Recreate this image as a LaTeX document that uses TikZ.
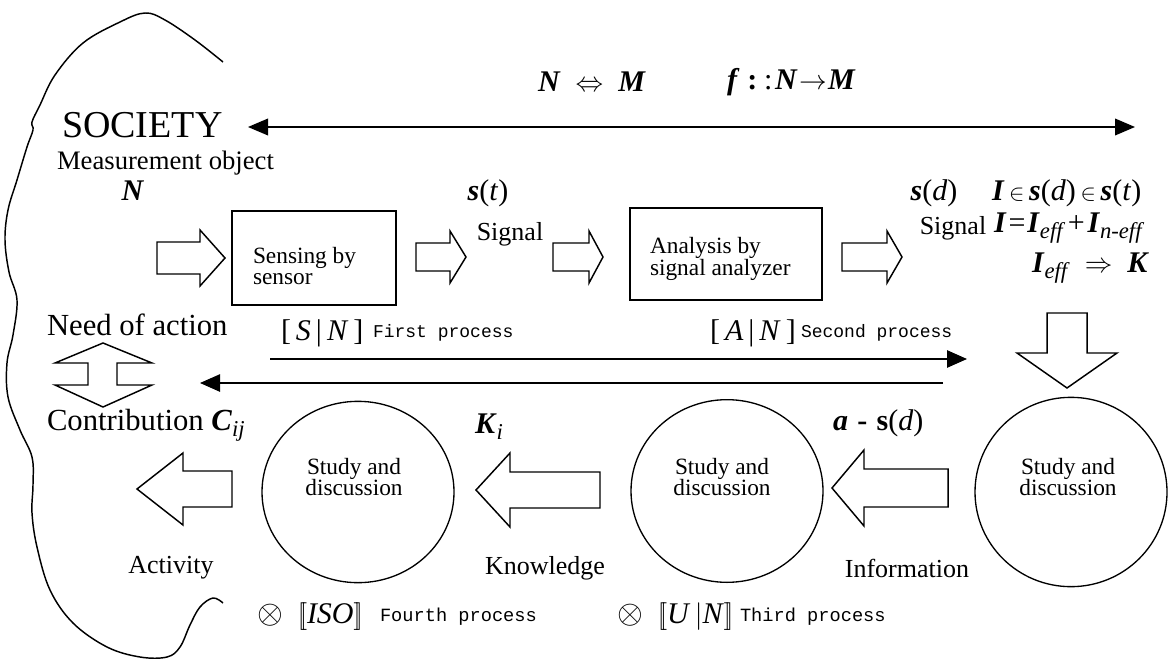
\documentclass[tikz,border=0pt]{standalone}
\usepackage{fontspec}
\setmainfont{Liberation Serif}
\setmonofont{Liberation Mono}
\usetikzlibrary{arrows.meta,shapes.geometric}
\newcommand{\bi}[1]{\textbf{\textit{#1}}}
\newcommand{\fsz}[2]{\fontsize{#1pt}{#2pt}\selectfont}
\newcommand{\smallin}{\hspace{3.5pt}{\fsz{17}{17}$\in$}\hspace{3.5pt}}
\newcommand{\subit}[1]{\raisebox{-4.5pt}{\fsz{17}{17}\textit{#1}}}
\newcommand{\myotimes}{{\fsz{28}{28}$\otimes$}}
% hollow horizontal arrow: tail x, head-base x, tip x, centre y, body half, head half
\newcommand{\hollowH}[6]{\draw[hollow] (#1,{#4-#5}) -- (#2,{#4-#5}) -- (#2,{#4-#6}) -- (#3,#4) -- (#2,{#4+#6}) -- (#2,{#4+#5}) -- (#1,{#4+#5}) -- cycle;}
% hollow vertical arrow: tail y, head-base y, tip y, centre x, body half, head half
\newcommand{\hollowV}[6]{\draw[hollow] ({#4-#5},#1) -- ({#4-#5},#2) -- ({#4-#6},#2) -- (#4,#3) -- ({#4+#6},#2) -- ({#4+#5},#2) -- ({#4+#5},#1) -- cycle;}
\begin{document}
\begin{tikzpicture}[x=0.75pt,y=-0.75pt,line width=1pt,
  every node/.style={inner sep=0pt,outer sep=0pt},
  hollow/.style={draw,line width=1.1pt,line join=miter,fill=white},
  boxnode/.style={draw,rectangle,line width=1pt},
  disc/.style={draw,ellipse,line width=1pt},
  tipline/.style={line width=1.1pt,-{Triangle[length=15pt,width=13pt]}},
  tipboth/.style={line width=1.1pt,{Triangle[length=15pt,width=12.5pt]}-{Triangle[length=15pt,width=12.5pt]}},
  big/.style={font=\fsz{28.5}{30}},
  mid/.style={font=\fsz{23}{24}},
  formula/.style={font=\fsz{22.5}{24}},
  lab/.style={font=\fsz{19.5}{21}},
  inner/.style={font=\fsz{17.5}{16},align=left},
  mono/.style={font=\ttfamily\fsz{13.5}{15}},
  monob/.style={font=\ttfamily\fsz{14}{15}}]
\useasboundingbox (0,0) rectangle (1169,659);

% society outline
\draw[line width=1.1pt] plot[smooth,tension=0.6] coordinates {
 (223,62) (195,40) (165,20) (145,13) (120,22) (83,43) (55,75) (40,105) (32,122) (33,130)
 (27,147) (17,180) (8,210) (5,240) (9,272) (17,300) (13,335) (7,363) (8,397) (20,430)
 (32,457) (33,485) (32,513) (37,547) (50,590) (73,623) (107,647) (140,657) (167,657)
 (180,647) (190,625) (200,607) (213,598) (223,603)};

% top texts
\node[big,anchor=west] (soc) at (62,125) {SOCIETY};
\node[font=\fsz{20}{22},anchor=west] (mo) at (57,163) {Measurement object};
\node[formula] (nobj) at (133,191) {\bi{N}};
\node[formula] (nm) at (592,82) {\bi{N}\ \ $\Leftrightarrow$\ \ \bi{M}};
\node[formula,anchor=west] (fm) at (727,82) {\bi{f}\hspace{6pt}\textbf{:}\hspace{5pt}:\hspace{2pt}\bi{N}\hspace{1pt}$\rightarrow$\hspace{1pt}\bi{M}};

\coordinate (tl) at (248,127);
\coordinate (tr) at (1135,127);
\draw[tipboth] (tl) -- (tr);

% process row
\node[boxnode,minimum width=123pt,minimum height=70.5pt] (b1) at (314,258) {};
\node[inner,anchor=west] (b1t) at (253,266) {Sensing by\\sensor};
\node[boxnode,minimum width=144pt,minimum height=69pt] (b2) at (726,254) {};
\node[inner,anchor=west] (b2t) at (650,259) {Analysis by\\signal analyzer};

\hollowH{157}{200}{225}{258}{16}{28}
\hollowH{416}{450}{466}{257}{14}{26}
\hollowH{553}{589}{603}{257}{14}{26}
\hollowH{842}{887}{902}{257}{14}{26}

\node[formula] (st) at (488,193) {\bi{s}(\textit{t})};
\node[lab] (sig1) at (510,234) {Signal};
\node[formula] (sd) at (934,193) {\bi{s}(\textit{d})};
\node[lab] (sig2) at (953,228) {Signal};
\node[formula,anchor=west] (f1) at (992,193) {\bi{I}\smallin\bi{s}(\textit{d})\smallin\bi{s}(\textit{t})};
\node[formula,anchor=west] (f2) at (994,228) {\bi{I}\hspace{1.5pt}=\hspace{1.5pt}\bi{I}\subit{eff}\hspace{2pt}+\hspace{2pt}\bi{I}\subit{n-eff}};
\node[formula,anchor=west] (f3) at (1032,268) {\bi{I}\subit{eff}\ \ $\Rightarrow$\ \ \bi{K}};

% middle row
\node[mid,anchor=west] (need) at (47,325) {Need of action};
\node[formula,anchor=west] (sn) at (281,333) {[\,\textit{S}\,|\,\textit{N}\,]};
\node[mono,anchor=west] (fp) at (373,333) {First process};
\node[formula,anchor=west] (an) at (710,333) {[\,\textit{A}\,|\,\textit{N}\,]};
\node[mono,anchor=west] (sp) at (801,333) {Second process};

\draw[hollow] (103,343) -- (152,363) -- (117,363) -- (117,385) -- (152,385) -- (103,407)
  -- (55,385) -- (88,385) -- (88,363) -- (55,363) -- cycle;

\coordinate (p1s) at (270,359);
\coordinate (p1e) at (967,359);
\draw[tipline] (p1s) -- (p1e);
\coordinate (p2s) at (943,383);
\coordinate (p2e) at (200,383);
\draw[tipline] (p2s) -- (p2e);

\hollowV{313}{353}{388}{1067}{20}{50}

% bottom row
\node[mid,anchor=west] (contr) at (47,425) {Contribution \bi{C}\subit{ij}};
\node[formula,anchor=west] (ki) at (475,427) {\bi{K}\subit{i}};
\node[formula,anchor=west] (asd) at (833,423) {\bi{a}\hspace{7pt}\textbf{-}\hspace{7pt}\textbf{s}(\textit{d})};

\node[disc,minimum width=144pt,minimum height=136pt] (c1) at (358,492) {};
\node[inner,align=center] (c1t) at (354,477) {Study and\\discussion};
\node[disc,minimum width=144pt,minimum height=137pt] (c2) at (727,491) {};
\node[inner,align=center] (c2t) at (722,477) {Study and\\discussion};
\node[disc,minimum width=144pt,minimum height=142pt] (c3) at (1071,492) {};
\node[inner,align=center] (c3t) at (1068,477) {Study and\\discussion};

\hollowH{232}{183}{137}{489}{18}{36}
\hollowH{600}{510}{476}{490}{18}{37}
\hollowH{948}{864}{832}{488}{19}{38}

\node[lab] (act) at (171,568) {Activity};
\node[lab] (know) at (545,568) {Knowledge};
\node[lab] (info) at (907,568) {Information};

\node[formula,anchor=west] (iso) at (257,617) {\myotimes\ \ $[\![$\textit{ISO}$]\!]$};
\node[monob,anchor=west] (fo) at (380,617) {Fourth process};
\node[formula,anchor=west] (un) at (617,617) {\myotimes\ \ $[\![$\textit{U}$\,|$\textit{N}$]\!]$};
\node[monob,anchor=west] (tp) at (740,617) {Third process};
\end{tikzpicture}
\end{document}
